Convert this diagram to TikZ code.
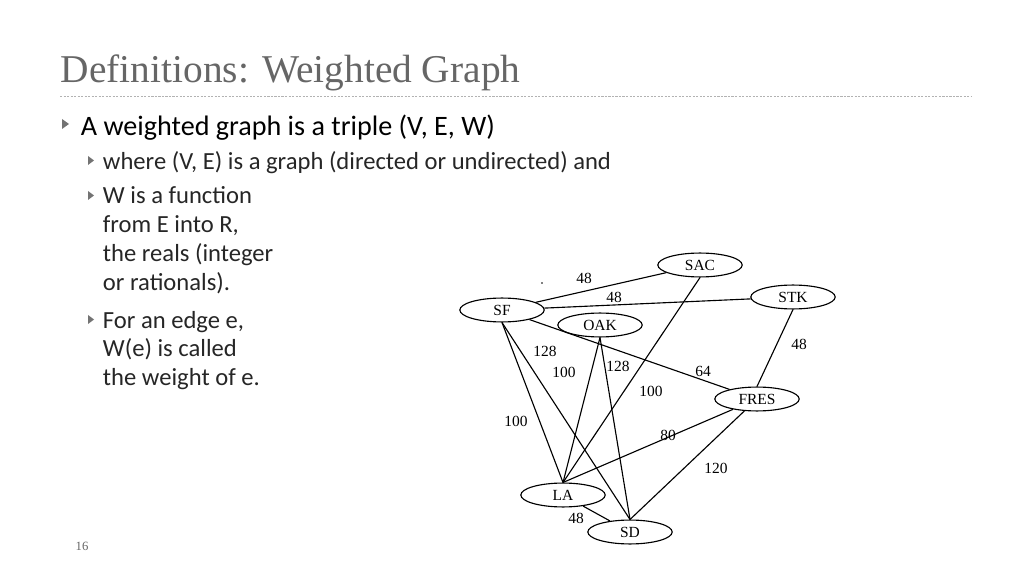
\documentclass[tikz,border=0pt]{standalone}
\usepackage{fontspec}
\setmainfont{Carlito}
\newfontfamily\titlefont{Liberation Serif}
\usetikzlibrary{positioning,shapes.geometric}
\begin{document}
\begin{tikzpicture}[x=0.025cm,y=-0.025cm,
  city/.style={ellipse, draw, thick, minimum width=60pt, minimum height=17pt,
               inner sep=0pt, font=\titlefont\fontsize{11}{12}\selectfont},
  road/.style={draw, thick},
  wt/.style={font=\titlefont\fontsize{11}{12}\selectfont},
  item/.style={anchor=north west, align=left, font=\fontsize{17.5}{20.5}\selectfont, text=black!85},
  tri/.style={fill=black!55, draw=none}]
  \useasboundingbox (0,0) rectangle (1024,576);
  % title
  \node[anchor=west, font=\titlefont\fontsize{28}{32}\selectfont, text=black!60] (title) at (56,73) {Definitions: Weighted Graph};
  \draw[black!30, dash pattern=on 1.5pt off 1pt] (60,96) -- (972,96);
  % bullets
  \fill[tri] (62,119) -- (69,124) -- (62,129) -- cycle;
  \node[item, font=\fontsize{20}{22}\selectfont, text=black] (b1) at (76,110) {A weighted graph is a triple (V, E, W)};
  \fill[tri] (88,156) -- (94,160.5) -- (88,165) -- cycle;
  \node[item] (b2) at (98,147) {where (V, E) is a graph (directed or undirected) and};
  \fill[tri] (88,191) -- (94,195.5) -- (88,200) -- cycle;
  \node[item] (b3) at (98,182) {W is a function\\from E into R,\\the reals (integer\\or rationals).};
  \fill[tri] (88,315) -- (94,319.5) -- (88,324) -- cycle;
  \node[item] (b4) at (98,306) {For an edge e,\\W(e) is called\\the weight of e.};
  \node[font=\titlefont\small, text=black!60] (page) at (82,546) {16};
  % graph
  \node[city] (SAC) at (700,265) {SAC};
  \node[city] (STK) at (793,297) {STK};
  \node[city] (SF) at (502,310) {SF};
  \node[city] (OAK) at (600,325) {OAK};
  \node[city] (FRES) at (757,399) {FRES};
  \node[city] (LA) at (563,495) {LA};
  \node[city] (SD) at (630,532) {SD};
  \draw[road] (SF) -- (SAC);
  \draw[road] (SF) -- (STK);
  \draw[road] (SF) -- (FRES);
  \draw[road] (SF.south) -- (LA.north);
  \draw[road] (SF.south) -- (SD.north);
  \draw[road] (OAK.south) -- (LA.north);
  \draw[road] (OAK.south) -- (SD.north);
  \draw[road] (SAC.south) -- (LA.north);
  \draw[road] (STK.south) -- (FRES.north);
  \draw[road] (FRES) -- (LA.north);
  \draw[road] (FRES) -- (SD.north);
  \draw[road] (LA) -- (SD);
  \node[wt] (w1) at (584,278) {48};
  \node[wt] (w2) at (614,297) {48};
  \node[wt] (w3) at (799,344) {48};
  \node[wt] (w4) at (545,351) {128};
  \node[wt] (w5) at (564,372) {100};
  \node[wt] (w6) at (618,366) {128};
  \node[wt] (w7) at (703,371) {64};
  \node[wt] (w8) at (651,391) {100};
  \node[wt] (w9) at (516,421) {100};
  \node[wt] (w10) at (668,435) {80};
  \node[wt] (w11) at (716,468) {120};
  \node[wt] (w12) at (576,518) {48};
  \fill (542,283) circle (0.8);
\end{tikzpicture}
\end{document}
